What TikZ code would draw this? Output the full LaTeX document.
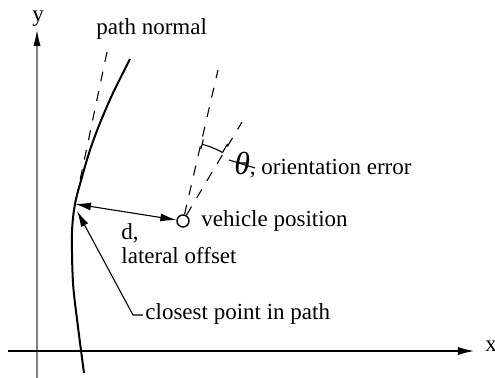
\documentclass[tikz,border=0pt]{standalone}
\usepackage{fontspec}
\setmainfont{Liberation Serif}
\usetikzlibrary{arrows.meta}
\tikzset{
  lbl/.style={anchor=base west, inner sep=0pt, font=\fontsize{11.5}{13}\selectfont},
  thin line/.style={line width=0.55pt},
  dashline/.style={line width=0.55pt, dash pattern=on 5pt off 5pt},
  tip/.style={-{Latex[length=8pt,width=4pt]}},
}
\begin{document}
\begin{tikzpicture}[x=0.5pt,y=-0.5pt]
\useasboundingbox (0,0) rectangle (495,378);
% axes
\coordinate (yb) at (37,378);
\coordinate (yt) at (37,30);
\coordinate (xl) at (8,351);
\coordinate (xr) at (474,351);
\draw[thin line, gray, -{Latex[length=8pt,width=3.6pt,color=black]}] (yb) -- (yt);
\draw[thin line, tip] (xl) -- (xr);
\node[lbl] (ylab) at (32,22) {y};
\node[lbl] (xlab) at (485,352) {x};
% path
\coordinate (cp) at (75,204);
\draw[line width=1pt] plot[smooth] coordinates {(130,59) (113,93) (100,123) (90,150) (82,177) (75,204) (72,233) (73,283) (78,327) (84,373)};
% path normal
\coordinate (pn) at (107,52);
\draw[dashline] (pn) -- (cp);
\node[lbl] (pnlab) at (96,35) {path normal};
% vehicle
\node[circle, draw, line width=0.7pt, minimum size=6pt, inner sep=0pt] (veh) at (183,221) {};
\coordinate (h1) at (218,70);
\coordinate (h2) at (242,122);
\draw[dashline] (veh) -- (h1);
\draw[dashline] (veh) -- (h2);
\node[lbl] (vehlab) at (201,227) {vehicle position};
% angle arc
\draw[thin line] plot[domain=-76:-60, samples=20] ({183+79*cos(\x)},{221+79*sin(\x)});
\draw[thin line] ({183+74*cos(-76)},{221+74*sin(-76)}) -- ({183+84*cos(-76)},{221+84*sin(-76)});
\draw[thin line] ({183+79*cos(-60)},{221+79*sin(-60)}) -- ({183+89*cos(-60)},{221+89*sin(-60)});
\coordinate (ta) at (229,160);
\coordinate (tb) at (255,168);
\draw[thin line] (ta) -- (tb);
\node[lbl, font=\fontsize{16}{18}\selectfont\itshape] (thsym) at (234,175) {θ};
\node[lbl] (thlab) at (249.5,175) {, orientation error};
% lateral offset
\draw[thin line, {Latex[length=8pt,width=4pt]}-{Latex[length=8pt,width=4pt]}] (cp) -- (veh);
\node[lbl] (dlab) at (121,240) {d,};
\node[lbl] (lolab) at (121,264) {lateral offset};
% closest point
\node[lbl] (cplab) at (145,320) {closest point in path};
\coordinate (lk) at (133,315);
\coordinate (le) at (143,315);
\coordinate (ctip) at (77,211);
\draw[thin line, tip] (le) -- (lk) -- (ctip);
\end{tikzpicture}
\end{document}
